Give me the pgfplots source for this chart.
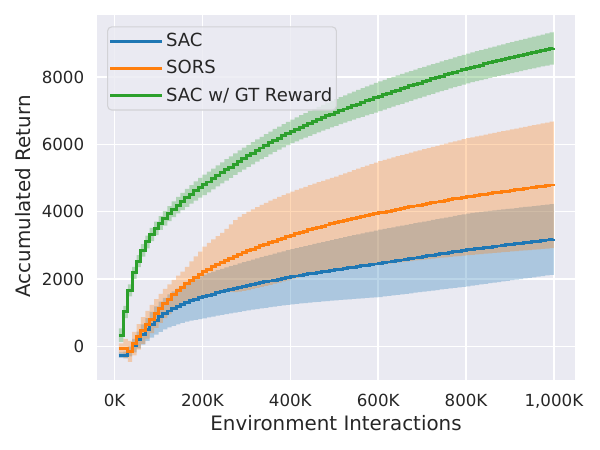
\documentclass[border=0pt]{standalone}
\usepackage{pgfplots}
\pgfplotsset{compat=1.18}
\usepackage{pgfplotstable}
\usepgfplotslibrary{fillbetween}
\usepackage{fontspec}
\setmainfont{DejaVu Sans}
\definecolor{sacblue}{HTML}{1F77B4}
\definecolor{sorsorange}{HTML}{FF7F0E}
\definecolor{gtgreen}{HTML}{2CA02C}
\definecolor{bgc}{HTML}{EAEAF2}
\definecolor{legedge}{HTML}{D2D2D6}
\pgfplotstableread{
x sm ss om os gm gs
10 -260 80 -60 150 330 200
20 -260 100 -60 280 1020 180
30 -150 150 -150 310 1660 180
40 20 200 80 350 2180 180
50 190 250 280 380 2530 180
60 350 300 470 400 2850 185
70 500 340 640 410 3100 190
80 640 380 810 420 3320 195
90 770 420 975 425 3500 200
100 880 450 1130 430 3660 205
110 970 470 1270 435 3800 215
120 1050 490 1400 440 3940 225
130 1120 510 1530 445 4070 235
140 1185 530 1650 450 4190 245
150 1245 550 1760 460 4300 255
160 1300 570 1860 500 4410 265
170 1350 590 1960 560 4515 275
180 1395 610 2050 620 4615 285
190 1440 630 2135 680 4710 295
200 1480 650 2215 745 4795 305
210 1516 658 2290 780 4880 307
220 1551 667 2362 815 4970 310
230 1585 675 2431 845 5060 312
240 1618 684 2497 870 5150 314
250 1650 692 2560 930 5240 316
260 1682 701 2620 1000 5325 319
270 1713 709 2677 1070 5410 321
280 1743 718 2732 1110 5495 323
290 1773 726 2785 1140 5575 325
300 1802 735 2836 1164 5655 328
310 1831 743 2886 1183 5735 330
320 1859 752 2935 1200 5815 332
330 1887 760 2983 1217 5890 334
340 1914 769 3030 1233 5965 337
350 1941 777 3076 1250 6040 339
360 1967 786 3121 1260 6115 341
370 1993 794 3165 1270 6185 343
380 2018 803 3209 1280 6255 346
390 2043 811 3252 1290 6320 348
400 2067 820 3295 1300 6385 350
410 2089 829 3337 1307 6445 355
420 2111 838 3378 1314 6505 360
430 2132 847 3418 1321 6563 364
440 2153 856 3457 1328 6621 369
450 2174 865 3495 1335 6677 374
460 2195 874 3532 1342 6733 379
470 2215 883 3568 1349 6788 383
480 2235 892 3603 1356 6842 388
490 2255 901 3637 1363 6895 393
500 2275 910 3670 1370 6947 398
510 2295 919 3702 1387 6998 402
520 2315 928 3733 1404 7048 407
530 2334 937 3763 1421 7098 412
540 2353 946 3793 1438 7147 417
550 2372 955 3822 1455 7195 421
560 2391 964 3851 1471 7243 426
570 2410 973 3879 1488 7290 431
580 2428 982 3907 1505 7336 436
590 2446 991 3934 1522 7382 440
600 2464 1000 3961 1539 7427 445
610 2484 1004 3988 1549 7472 445
620 2504 1008 4015 1559 7517 445
630 2524 1012 4041 1569 7561 444
640 2544 1016 4067 1579 7605 444
650 2564 1020 4093 1589 7648 444
660 2584 1024 4118 1599 7691 443
670 2604 1028 4143 1609 7733 443
680 2624 1032 4168 1619 7775 443
690 2644 1036 4192 1629 7817 442
700 2664 1040 4216 1639 7858 442
710 2684 1044 4240 1649 7899 442
720 2704 1048 4264 1659 7940 442
730 2724 1052 4287 1669 7980 441
740 2744 1056 4310 1679 8020 441
750 2764 1060 4333 1689 8060 441
760 2784 1064 4356 1699 8099 441
770 2804 1068 4378 1709 8138 440
780 2824 1072 4400 1719 8177 440
790 2844 1076 4422 1728 8215 440
800 2864 1080 4444 1738 8253 440
810 2881 1079 4463 1745 8287 442
820 2898 1077 4482 1753 8321 444
830 2914 1076 4501 1760 8354 446
840 2931 1074 4520 1768 8387 448
850 2947 1073 4539 1775 8419 450
860 2963 1071 4558 1782 8451 452
870 2980 1070 4576 1790 8483 454
880 2996 1068 4594 1797 8514 456
890 3012 1067 4612 1805 8545 458
900 3028 1065 4630 1812 8576 460
910 3044 1064 4648 1819 8607 462
920 3061 1062 4666 1827 8637 464
930 3077 1061 4684 1834 8667 466
940 3093 1059 4702 1842 8697 468
950 3109 1058 4720 1849 8727 470
960 3125 1056 4738 1856 8757 472
970 3141 1055 4756 1864 8786 474
980 3157 1053 4774 1871 8815 476
990 3173 1052 4792 1879 8844 478
1000 3190 1050 4810 1886 8873 480
}\data
\begin{document}
\begin{tikzpicture}
\begin{axis}[
  at={(0,0)}, anchor=south west,
  scale only axis, width=344.16pt, height=262.8pt,
  xmin=-40, xmax=1048, ymin=-1000, ymax=9840,
  axis background/.style={fill=bgc},
  axis line style={draw=none},
  major tick length=0pt,
  tick style={draw=none},
  grid=major,
  major grid style={white, line width=1pt},
  xtick={0,200,400,600,800,1000},
  xticklabels={0K,200K,400K,600K,800K,{1,000K}},
  ytick={0,2000,4000,6000,8000},
  scaled y ticks=false,
  /pgf/number format/assume math mode=true,
  /pgf/number format/1000 sep={},
  ticklabel style={font=\fontsize{12}{14.4}\selectfont, text=black!85},
  xticklabel style={yshift=-6.4pt},
  yticklabel style={xshift=-5.7pt},
  xlabel={Environment Interactions},
  ylabel={Accumulated Return},
  every axis x label/.style={at={(axis description cs:0.5,-0.0830)}, anchor=north, font=\fontsize{14.3}{17}\selectfont, text=black!85},
  every axis y label/.style={at={(axis description cs:-0.1277,0.503)}, anchor=south, rotate=90, font=\fontsize{14.3}{17}\selectfont, text=black!85},
  legend style={at={(axis description cs:0.021,0.969)}, anchor=north west,
    fill=bgc, fill opacity=0.8, draw opacity=1, text opacity=1,
    draw=legedge, line width=0.8pt, rounded corners=3pt,
    font=\fontsize{13}{15.5}\selectfont, text=black!85,
    inner xsep=1pt, inner ysep=2.7pt, row sep=4.4pt},
  legend cell align=left,
  legend image code/.code={\draw[#1] (0pt,0pt) -- (28.5pt,0pt); \path (28.5pt,0pt) -- (37pt,0pt);},
]
\addplot[name path=su, draw=none, const plot, forget plot] table[x=x, y expr=\thisrow{sm}+\thisrow{ss}] {\data};
\addplot[name path=sl, draw=none, const plot, forget plot] table[x=x, y expr=\thisrow{sm}-\thisrow{ss}] {\data};
\addplot[fill=sacblue, fill opacity=0.3, draw=none, forget plot] fill between[of=su and sl];
\addplot[name path=ou, draw=none, const plot, forget plot] table[x=x, y expr=\thisrow{om}+\thisrow{os}] {\data};
\addplot[name path=ol, draw=none, const plot, forget plot] table[x=x, y expr=\thisrow{om}-\thisrow{os}] {\data};
\addplot[fill=sorsorange, fill opacity=0.3, draw=none, forget plot] fill between[of=ou and ol];
\addplot[name path=gu, draw=none, const plot, forget plot] table[x=x, y expr=\thisrow{gm}+\thisrow{gs}] {\data};
\addplot[name path=gl, draw=none, const plot, forget plot] table[x=x, y expr=\thisrow{gm}-\thisrow{gs}] {\data};
\addplot[fill=gtgreen, fill opacity=0.3, draw=none, forget plot] fill between[of=gu and gl];
\addplot[draw=sacblue, line width=2.10pt, const plot, mark=none] table[x=x, y=sm] {\data};
\addlegendentry{SAC}
\addplot[draw=sorsorange, line width=2.12pt, const plot, mark=none] table[x=x, y=om] {\data};
\addlegendentry{SORS}
\addplot[draw=gtgreen, line width=2.14pt, const plot, mark=none] table[x=x, y=gm] {\data};
\addlegendentry{SAC w/ GT Reward}
\end{axis}
\pgfresetboundingbox
\path (-69.84pt,-50.4pt) rectangle (362.16pt,273.6pt);
\end{tikzpicture}
\end{document}
